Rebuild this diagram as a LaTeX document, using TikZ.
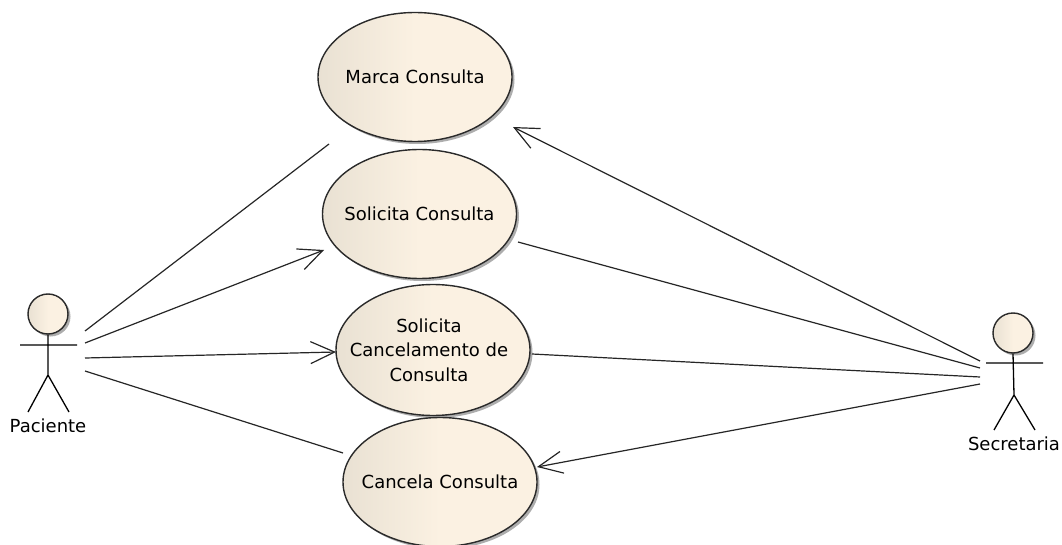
\documentclass[tikz,border=0pt]{standalone}
\usepackage{fontspec}
\setmainfont{DejaVu Sans}
\usetikzlibrary{shapes.geometric,arrows.meta}
\definecolor{ucleft}{HTML}{E9E1D3}
\definecolor{ucright}{HTML}{FBF1E2}
\definecolor{ucedge}{HTML}{2A2A2A}
\tikzset{
  ucfont/.style={font=\fontsize{18}{24.5}\selectfont,align=center},
  usecase/.style={ellipse,draw=ucedge,line width=1.4pt,minimum width=194pt,minimum height=129pt,inner sep=0pt,
    left color=ucleft,right color=ucright,middle color=ucright,
    preaction={fill=black!32,transform canvas={shift={(2.5pt,-2.5pt)}}},
    ucfont},
  acthead/.style={circle,draw=ucedge,line width=1.4pt,minimum size=40pt,inner sep=0pt,
    left color=ucleft,right color=ucright,middle color=ucright,
    preaction={fill=black!32,transform canvas={shift={(2.5pt,-2.5pt)}}}},
  actlimb/.style={draw=black,line width=1.3pt},
  actname/.style={font=\fontsize{18}{20}\selectfont,inner sep=0pt},
  assoc/.style={draw=black!85,line width=1.2pt},
  assocarr/.style={assoc,-{Straight Barb[length=24pt,width=22pt,line width=1.2pt]}}
}
\begin{document}
\begin{tikzpicture}[x=1pt,y=-1pt]
\useasboundingbox (0,0) rectangle (1062,545);
\fill[white] (0,0) rectangle (1062,545);
\clip (0,0) rectangle (1062,545);
% use cases
\node[usecase] (marca) at (415,77) {\makebox[0pt]{Marca Consulta}};
\node[usecase] (solic) at (419.5,214) {\makebox[0pt]{Solicita Consulta}};
\node[usecase,minimum height=131pt] (canc) at (433,350) {};
\node[ucfont,inner sep=0pt] (canctxt) at (429,350) {Solicita\\Cancelamento de\\Consulta};
\node[usecase] (cancela) at (440,482) {\makebox[0pt]{Cancela Consulta}};
% Paciente
\node[acthead] (phead) at (48,314) {};
\coordinate (pneck) at (phead.south);
\coordinate (pcrotch) at (48,375);
\coordinate (parml) at (20,345);
\coordinate (parmr) at (77,345);
\coordinate (plegl) at (28,412);
\coordinate (plegr) at (69,412);
\draw[actlimb] (pneck) -- (pcrotch) (parml) -- (parmr) (plegl) -- (pcrotch) -- (plegr);
\node[actname] (pname) at (48,426) {Paciente};
% Secretaria
\node[acthead] (shead) at (1013,333) {};
\coordinate (sneck) at (shead.south);
\coordinate (scrotch) at (1014,395);
\coordinate (sarml) at (986,363);
\coordinate (sarmr) at (1043,363);
\coordinate (slegl) at (994,430);
\coordinate (slegr) at (1035,430);
\draw[actlimb] (sneck) -- (scrotch) (sarml) -- (sarmr) (slegl) -- (scrotch) -- (slegr);
\node[actname] (sname) at (1014,444) {Secretaria};
% connector ends
\coordinate (p1) at (85,331);
\coordinate (p2) at (85,343);
\coordinate (p3) at (85,358);
\coordinate (p4) at (85,371);
\coordinate (m1) at (329,144);
\coordinate (m2) at (324,250);
\coordinate (m3) at (336,352);
\coordinate (m4) at (343,453);
\coordinate (s1) at (980,361);
\coordinate (s2) at (980,368);
\coordinate (s3) at (980,377);
\coordinate (s4) at (980,384);
\coordinate (n1) at (513,127);
\coordinate (n2) at (518,242);
\coordinate (n3) at (532,354);
\coordinate (n4) at (537,467);
\draw[assoc] (p1) -- (m1);
\draw[assocarr] (p2) -- (m2);
\draw[assocarr] (p3) -- (m3);
\draw[assoc] (p4) -- (m4);
\draw[assocarr] (s1) -- (n1);
\draw[assoc] (s2) -- (n2);
\draw[assoc] (s3) -- (n3);
\draw[assocarr] (s4) -- (n4);
\end{tikzpicture}
\end{document}
